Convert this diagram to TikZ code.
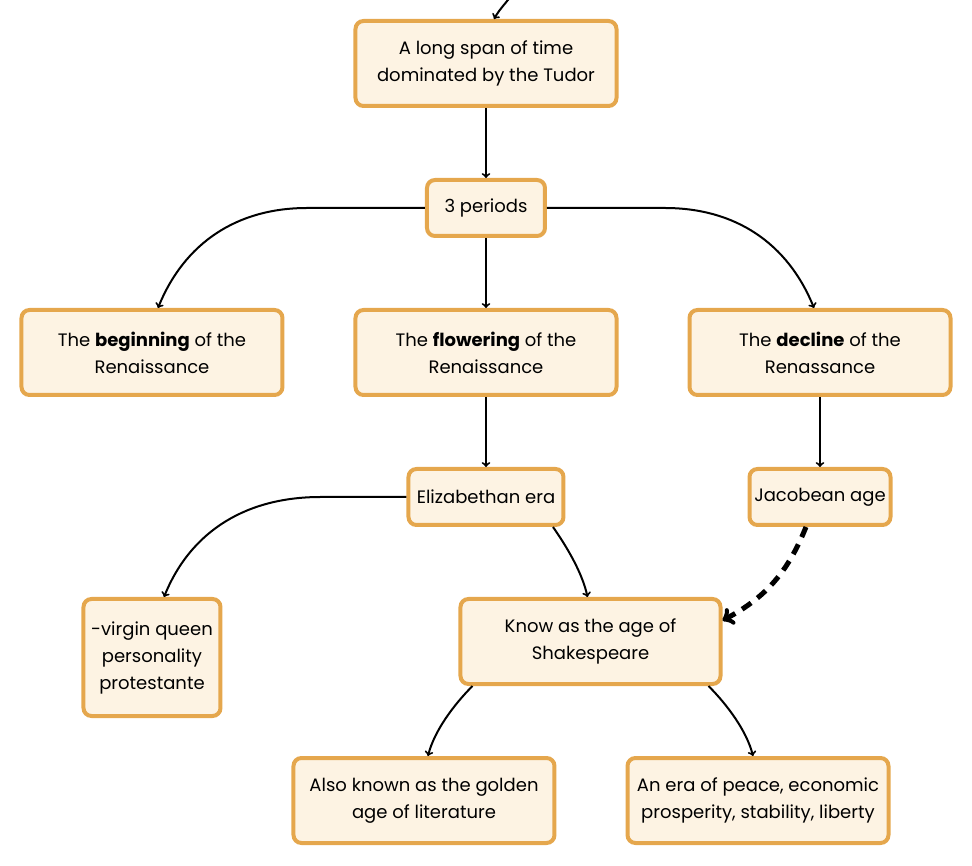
\documentclass[tikz,border=0pt]{standalone}
\usepackage{fontspec}
\setmainfont{Poppins}
\usetikzlibrary{positioning}
\definecolor{boxline}{HTML}{E5A74D}
\definecolor{boxfill}{HTML}{FDF3E3}

\begin{document}
\begin{tikzpicture}[x=1pt, y=1pt, node distance=70pt,
		box/.style={draw=boxline, line width=4pt, rounded corners=8pt, fill=boxfill, align=center, inner sep=0pt,
			font=\fontsize{18}{27}\selectfont, minimum width=261pt, minimum height=85pt},
		small/.style={box, minimum height=56pt},
		link/.style={->, line width=2pt}]
			\useasboundingbox (-486,208) rectangle (486,-658);
			\node[small, minimum width=118pt]  (periods)  {3 periods};
			\node[box, above=of periods]  (tudor)  {A long span of time\\dominated by the Tudor};
			\node[box, below=of periods]  (flowering)  {The \textbf{flowering} of the\\Renaissance};
			\node[box, left=69pt of flowering]  (beginning)  {The \textbf{beginning} of the\\Renaissance};
			\node[box, right=69pt of flowering]  (decline)  {The \textbf{decline} of the\\Renassance};
			\node[small, minimum width=155pt, below=of flowering]  (elizabethan)  {Elizabethan era};
			\node[small, minimum width=141pt, below=of decline]  (jacobean)  {Jacobean age};
			\node[box, minimum width=260pt, below=of elizabethan, xshift=104.5pt]  (shakespeare)  {Know as the age of\\Shakespeare};
			\node[box, minimum width=137pt, minimum height=117pt, anchor=north] (queen) at (beginning |- shakespeare.north) {-virgin queen\\personality\\protestante};
			\node[box, below=of shakespeare, xshift=-166.5pt]  (golden)  {Also known as the golden\\age of literature};
			\node[box, below=of shakespeare, xshift=167.5pt]  (peace)  {An era of peace, economic\\prosperity, stability, liberty};
			\coordinate (incoming) at (28,216);

			\draw[link] (incoming) to[out=-125, in=60] ([xshift=8pt]tudor.north) ;
			\draw[link] (tudor) -- (periods) ;
			\draw[link] (periods.west) -- ++(-118,0) to[out=180, in=68] ([xshift=6pt]beginning.north) ;
			\draw[link] (periods) -- (flowering) ;
			\draw[link] (periods.east) -- ++(118,0) to[out=0, in=112] ([xshift=-6pt]decline.north) ;
			\draw[link] (flowering) -- (elizabethan) ;
			\draw[link] (decline) -- (jacobean) ;
			\draw[link] (elizabethan.west) -- ++(-86,0) to[out=180, in=68] ([xshift=12pt]queen.north) ;
			\draw[link] ([xshift=67pt]elizabethan.south) to[out=-55, in=102, looseness=0.8] ([xshift=-3pt]shakespeare.north) ;
			\draw[link, line width=5pt, dash pattern=on 11pt off 8pt] ([xshift=-14pt]jacobean.south) to[out=-112, in=28] ([yshift=21pt]shakespeare.east) ;
			\draw[link] ([xshift=-118pt]shakespeare.south) to[out=-135, in=76, looseness=0.8] ([xshift=4pt]golden.north) ;
			\draw[link] ([xshift=118pt]shakespeare.south) to[out=-45, in=104, looseness=0.8] ([xshift=-5pt]peace.north) ;
		\end{tikzpicture}
\end{document}
